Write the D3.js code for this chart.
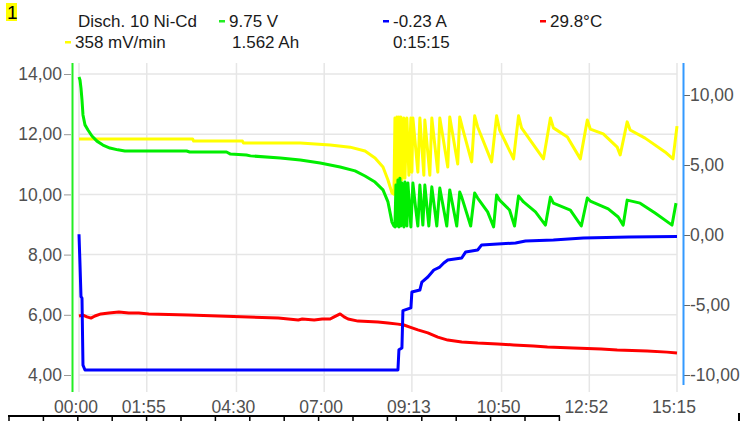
<!DOCTYPE html>
<html>
<head>
<meta charset="utf-8">
<script src="https://cdn.jsdelivr.net/npm/d3@7"></script>
<style>
  body { margin: 0; background: #fff; }
  svg { display: block; font-family: "Liberation Sans", Arial, sans-serif; }
</style>
</head>
<body>
<div id="chart"></div>
<script>
// x is the logger sample number (0..300), the time labels are not linear
const xTickSamples = [0, 34, 79, 123, 167, 212, 256, 300];
const xTickLabels = ["00:00", "01:55", "04:30", "07:00", "09:13", "10:50", "12:52", "15:15"];
const leftTicks = [4, 6, 8, 10, 12, 14];
const rightTicks = [-10, -5, 0, 5, 10];

// voltage [sample, V]
const voltage = [[0,13.90],[0.5,13.80],[1,13.53],[1.5,13.14],[2,12.64],[3,12.31],[4.5,12.14],[6.5,11.94],[9,11.77],[12,11.64],
  [15.5,11.54],[19.5,11.48],[23,11.44],[54,11.44],[55.5,11.41],[74,11.41],[76,11.34],[84,11.31],[86,11.28],[101,11.21],
  [111,11.14],[121,11.04],[131,10.91],[138.5,10.78],[143.5,10.61],[148.5,10.41],[152.5,10.15],[155,9.75],[157,9.08],[158,8.95],
  [158.5,8.92],[159,10.31],[159.5,8.95],[160,10.48],[160.5,8.92],[161,10.54],[161.5,8.95],[162,10.38],[163,8.92],[163.5,10.41],
  [164.5,8.95],[165,10.38],[166.5,8.92],[167.5,10.38],[169,9.48],[170,8.95],[171,10.31],[172.5,8.98],[173.5,10.31],[175.5,8.95],
  [177,10.25],[179.5,8.95],[181,10.21],[184.5,8.95],[186,10.15],[189.5,8.95],[191,10.08],[192,9.91],[196.5,8.95],[198.5,10.05],
  [200,9.88],[205,9.42],[208,8.92],[209.5,9.98],[211,9.81],[216,9.48],[218.5,8.95],[220.5,9.95],[223,9.75],[229,9.42],
  [234,8.98],[236.5,9.91],[238,9.71],[246.5,9.48],[252,8.95],[255,9.88],[256.5,9.78],[265.5,9.52],[270.5,9.25],[273,8.98],
  [275,9.81],[281.5,9.71],[289,9.38],[297.5,8.98],[299.5,9.71]];

// voltage slope, drawn on the left scale
const slope = [[0,11.84],[57,11.84],[57.5,11.77],[82,11.77],[82.5,11.71],[111,11.71],[126,11.64],[136,11.57],[143.5,11.44],
  [148.5,11.21],[152.5,10.91],[155,10.48],[157,10.05],[158,10.01],
  [158.5,12.54],[159,10.15],[159.5,12.57],[160,10.21],[160.5,12.57],[161,10.31],[161.5,12.57],[162,10.48],[163,12.54],
  [163.5,10.54],[164.5,12.54],[165.5,10.64],[166.5,12.54],[167,10.74],[167.5,12.54],[170,10.74],[171,12.54],[173,10.64],
  [173.5,12.47],[176,10.64],[177,12.54],[180,10.74],[181,12.54],[182,12.14],[185,10.91],[186,12.57],[187,12.18],[190,11.01],
  [191,12.57],[192.5,12.18],[197,11.08],[198.5,12.61],[200,12.24],[207,11.08],[209.5,12.61],[211,12.14],[218,11.18],
  [220.5,12.61],[222,12.21],[233,11.18],[236.5,12.54],[238,12.21],[245,11.91],[251.5,11.18],[255,12.47],[256.5,12.17],
  [263,12.01],[270,11.57],[271.5,11.31],[275,12.41],[276.5,12.14],[284,11.87],[294,11.41],[298,11.18],[300,12.27]];

// current [sample, A], right scale
const current = [[0,0.05],[0.5,-2.1],[1,-4.4],[1.5,-4.5],[2,-9.3],[3,-9.64],[160,-9.64],[160.5,-8.2],[162,-8.07],[162.5,-5.4],
  [166.5,-5.21],[167,-4.07],[171,-3.93],[172,-3.36],[175,-3.0],[178,-2.5],[181,-2.29],[183,-2.0],[185,-1.79],[192,-1.64],
  [194,-1.21],[200,-1.07],[202,-0.71],[210,-0.64],[219,-0.57],[224,-0.43],[238,-0.36],[253,-0.21],[276,-0.14],[300,-0.1]];

// temperature, drawn on the left scale
const temperature = [[0,5.96],[2,5.99],[4,5.93],[6,5.89],[8,5.96],[11,6.03],[15,6.06],[20,6.09],[25,6.06],[30,6.06],[35,6.03],
  [45,6.01],[55,5.99],[70,5.96],[85,5.93],[100,5.89],[105,5.86],[110,5.83],[112,5.86],[118,5.83],[122,5.86],[126,5.86],
  [128,5.93],[131,6.03],[133,5.93],[135,5.86],[140,5.79],[150,5.76],[155,5.73],[160,5.69],[163,5.66],[166,5.59],[170,5.50],
  [175,5.40],[180,5.26],[185,5.16],[192,5.10],[200,5.06],[210,5.03],[218,5.00],[228,4.96],[235,4.93],[248,4.90],[262,4.86],
  [270,4.83],[285,4.80],[295,4.76],[300,4.73]];

const width = 740, height = 421;

const svg = d3.select("#chart").append("svg")
    .attr("width", width)
    .attr("height", height);

svg.append("rect").attr("width", width).attr("height", height).attr("fill", "#fff");

const x = d3.scaleLinear().domain([0, 300]).range([79, 677]);
const yL = d3.scaleLinear().domain([4, 14]).range([375, 74]);
const yR = d3.scaleLinear().domain([-10, 10]).range([375, 95]);
const plotTop = 63, plotBottom = 392;

// grid
svg.append("g").selectAll("line")
    .data(leftTicks)
    .enter().append("line")
    .attr("x1", x(0)).attr("x2", x(300))
    .attr("y1", d => yL(d)).attr("y2", d => yL(d))
    .attr("stroke", "#e6e6e6").attr("stroke-width", 1.5);

svg.append("g").selectAll("line")
    .data(xTickSamples)
    .enter().append("line")
    .attr("x1", d => x(d)).attr("x2", d => x(d))
    .attr("y1", plotTop).attr("y2", plotBottom)
    .attr("stroke", "#e6e6e6").attr("stroke-width", 1.5);

// left axis
const fmt = d => d.toFixed(2).replace(".", ",");
const gL = svg.append("g")
    .attr("transform", "translate(71,0)")
    .call(d3.axisLeft(yL).tickValues(leftTicks).tickSize(7).tickPadding(2).tickFormat(fmt));
gL.select(".domain").remove();
gL.selectAll("line").attr("stroke", "#999");
gL.selectAll("text").attr("font-size", 17.5).attr("fill", "#505050").attr("font-family", null);

svg.append("line")
    .attr("x1", 72.5).attr("x2", 72.5).attr("y1", plotTop).attr("y2", plotBottom)
    .attr("stroke", "#22ee22").attr("stroke-width", 2);

// right axis
const gR = svg.append("g")
    .attr("transform", "translate(684,0)")
    .call(d3.axisRight(yR).tickValues(rightTicks).tickSize(6).tickPadding(0).tickFormat(fmt));
gR.select(".domain").remove();
gR.selectAll("line").attr("stroke", "#666");
gR.selectAll("text").attr("font-size", 17.5).attr("fill", "#505050").attr("font-family", null);

svg.append("line")
    .attr("x1", 683.5).attr("x2", 683.5).attr("y1", plotTop).attr("y2", 385)
    .attr("stroke", "#3399ff").attr("stroke-width", 2);

// x labels
svg.append("g").selectAll("text")
    .data(xTickSamples)
    .enter().append("text")
    .attr("x", d => x(d) - 3)
    .attr("y", 413)
    .attr("text-anchor", "middle")
    .attr("font-size", 17.5)
    .attr("fill", "#505050")
    .text((d, i) => xTickLabels[i]);

// series
const lineL = d3.line().x(d => x(d[0])).y(d => yL(d[1]));
const lineR = d3.line().x(d => x(d[0])).y(d => yR(d[1]));

function drawLine(data, gen, color) {
  svg.append("path")
      .datum(data)
      .attr("fill", "none")
      .attr("stroke", color)
      .attr("stroke-width", 3)
      .attr("stroke-linejoin", "round")
      .attr("d", gen);
}
drawLine(temperature, lineL, "#ff0000");
drawLine(current, lineR, "#0000ff");
drawLine(slope, lineL, "#ffff00");
drawLine(voltage, lineL, "#00ee00");

// header
svg.append("rect").attr("x", 6).attr("y", 3).attr("width", 11).attr("height", 18).attr("fill", "#ffff00");
svg.append("text").attr("x", 7).attr("y", 19).attr("font-size", 19).attr("fill", "#000").text("1");

const header = [
  {t: "Disch. 10  Ni-Cd", x: 78, row: 0},
  {t: "9.75 V", x: 229, row: 0, c: "#22ee22"},
  {t: "-0.23 A", x: 393, row: 0, c: "#0000ff"},
  {t: "29.8°C", x: 550, row: 0, c: "#ff0000"},
  {t: "358 mV/min", x: 75, row: 1, c: "#ffff00"},
  {t: "1.562 Ah", x: 232, row: 1},
  {t: "0:15:15", x: 393, row: 1}
];
const rowY = [27, 48];
header.forEach(h => {
  if (h.c) {
    svg.append("rect").attr("x", h.x - 10).attr("y", rowY[h.row] - 7).attr("width", 6).attr("height", 2.5).attr("fill", h.c);
  }
  svg.append("text").attr("x", h.x).attr("y", rowY[h.row])
      .attr("font-size", 17).attr("fill", "#1a1a1a").text(h.t);
});

// top border of the table under the chart
svg.append("line").attr("x1", 8).attr("x2", 560).attr("y1", 416).attr("y2", 416)
    .attr("stroke", "#000").attr("stroke-width", 2);
svg.append("g").selectAll("line")
    .data(d3.range(17))
    .enter().append("line")
    .attr("x1", d => 9 + d * 34.4).attr("x2", d => 9 + d * 34.4)
    .attr("y1", 416).attr("y2", 421)
    .attr("stroke", "#000").attr("stroke-width", 1.5);
svg.append("line").attr("x1", 739).attr("x2", 739).attr("y1", 413).attr("y2", 421)
    .attr("stroke", "#000").attr("stroke-width", 2);
</script>
</body>
</html>
